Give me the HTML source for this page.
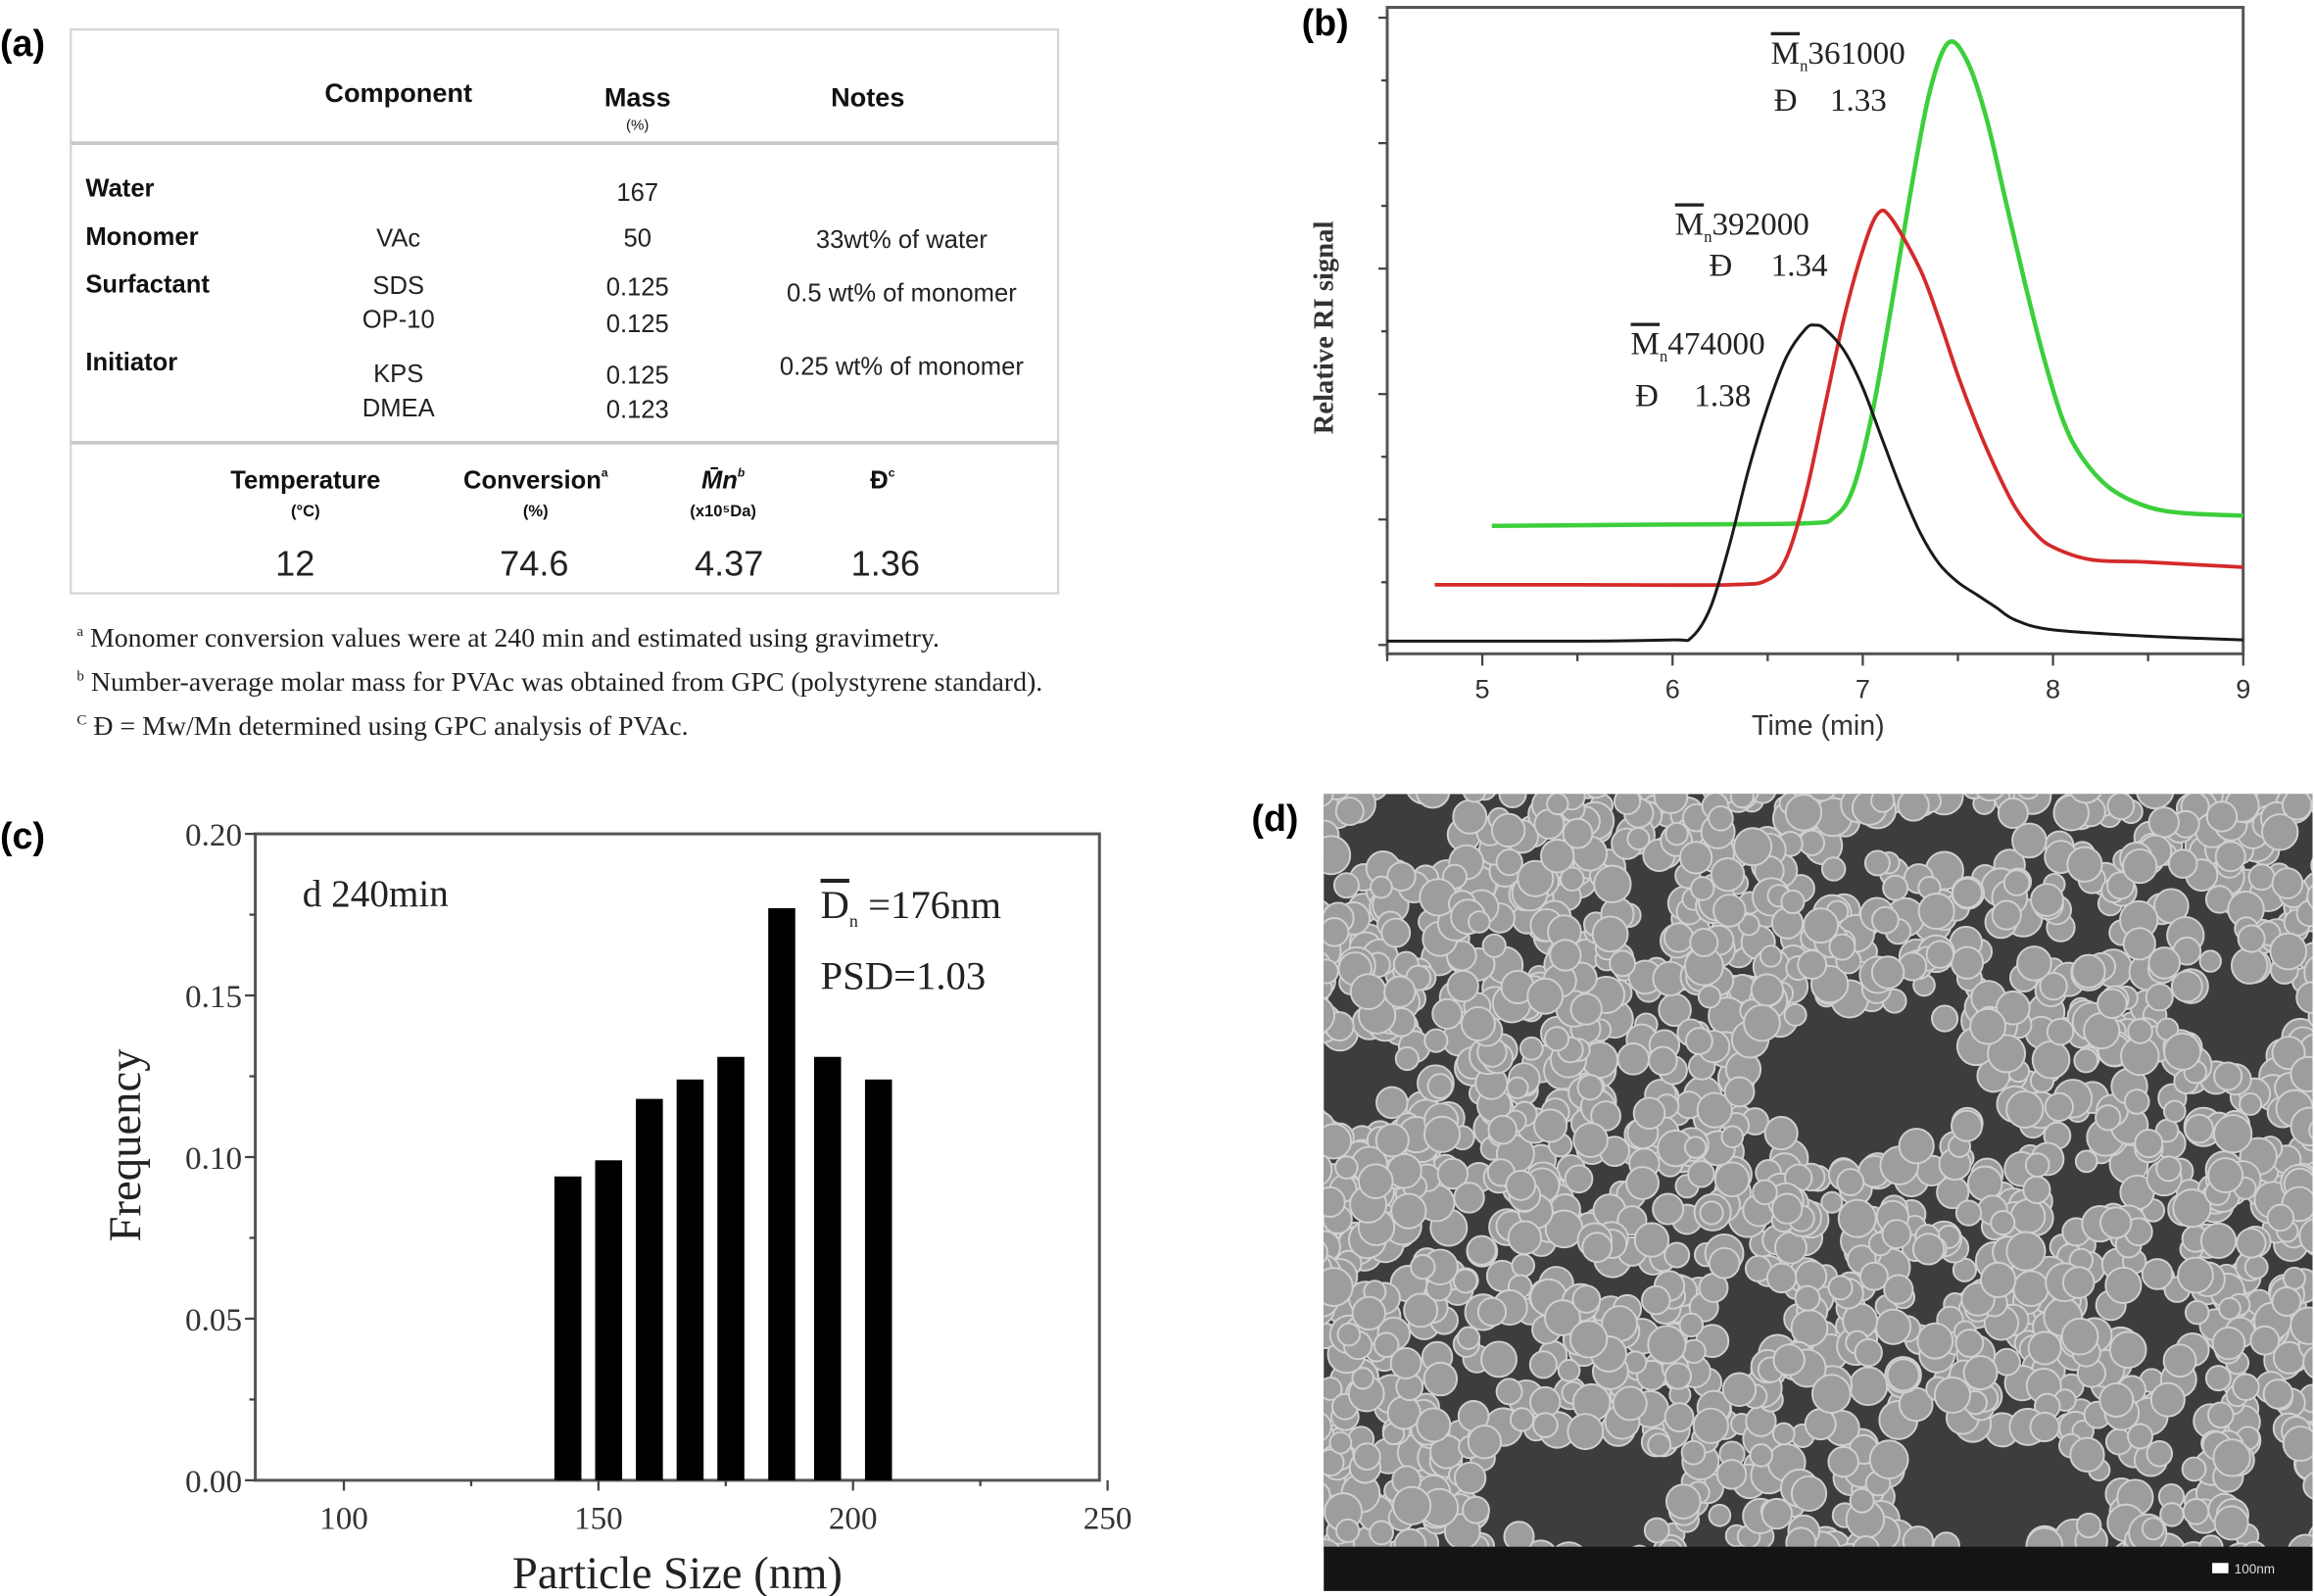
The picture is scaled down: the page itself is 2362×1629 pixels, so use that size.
<!DOCTYPE html>
<html><head><meta charset="utf-8"><style>
html,body{margin:0;padding:0;background:#fff;}
svg{display:block;}
.sans{font-family:"Liberation Sans",Arial,sans-serif;}
.serif{font-family:"Liberation Serif","Times New Roman",serif;}
</style></head><body>
<svg id="fig" width="2362" height="1629" viewBox="0 0 1568 1081.4" preserveAspectRatio="none" xmlns="http://www.w3.org/2000/svg">
<rect x="0" y="0" width="1568" height="1082" fill="#fff"/>

<!-- Panel (a) table -->
<g class="sans">
  <text x="0" y="38" font-size="25" font-weight="bold">(a)</text>
  <rect x="48" y="20" width="669" height="382" fill="#fff" stroke="#d6d6d6" stroke-width="1.5"/>
  <line x1="48" y1="97" x2="717" y2="97" stroke="#c8c8c8" stroke-width="2.5"/>
  <line x1="48" y1="300" x2="717" y2="300" stroke="#c8c8c8" stroke-width="2.5"/>
  <g font-weight="bold" font-size="18" fill="#111" text-anchor="middle">
    <text x="270" y="69">Component</text>
    <text x="432" y="72">Mass</text>
    <text x="432" y="88" font-size="10" font-weight="normal">(%)</text>
    <text x="588" y="72">Notes</text>
  </g>
  <g font-weight="bold" font-size="17" fill="#111">
    <text x="58" y="133">Water</text>
    <text x="58" y="166">Monomer</text>
    <text x="58" y="198">Surfactant</text>
    <text x="58" y="251">Initiator</text>
  </g>
  <g font-size="17" fill="#222" text-anchor="middle">
    <text x="270" y="167">VAc</text>
    <text x="270" y="199">SDS</text>
    <text x="270" y="222">OP-10</text>
    <text x="270" y="259">KPS</text>
    <text x="270" y="282">DMEA</text>
    <text x="432" y="136">167</text>
    <text x="432" y="167">50</text>
    <text x="432" y="200">0.125</text>
    <text x="432" y="225">0.125</text>
    <text x="432" y="260">0.125</text>
    <text x="432" y="283">0.123</text>
    <text x="611" y="168">33wt% of water</text>
    <text x="611" y="204">0.5 wt% of monomer</text>
    <text x="611" y="254">0.25 wt% of monomer</text>
  </g>
  <g font-weight="bold" font-size="17" fill="#111" text-anchor="middle">
    <text x="207" y="331">Temperature</text>
    <text x="207" y="350" font-size="11">(°C)</text>
    <text x="363" y="331">Conversion<tspan font-size="8" dy="-8">a</tspan></text>
    <text x="363" y="350" font-size="11">(%)</text>
    <text x="490" y="331" font-style="italic">M̄n<tspan font-size="8" dy="-8">b</tspan></text>
    <text x="490" y="350" font-size="11">(x10⁵Da)</text>
    <text x="598" y="331">Đ<tspan font-size="8" dy="-8">c</tspan></text>
  </g>
  <g font-size="24" fill="#222" text-anchor="middle">
    <text x="200" y="390">12</text>
    <text x="362" y="390">74.6</text>
    <text x="494" y="390">4.37</text>
    <text x="600" y="390">1.36</text>
  </g>
  <g class="serif" font-size="18.5" fill="#222">
    <text x="52" y="438"><tspan font-size="10" dy="-7">a</tspan><tspan dy="7"> Monomer conversion values were at 240 min and estimated using gravimetry.</tspan></text>
    <text x="52" y="468"><tspan font-size="10" dy="-7">b</tspan><tspan dy="7"> Number-average molar mass for PVAc was obtained from GPC (polystyrene standard).</tspan></text>
    <text x="52" y="498"><tspan font-size="10" dy="-7">C</tspan><tspan dy="7"> Đ = Mw/Mn determined using GPC analysis of PVAc.</tspan></text>
  </g>
</g>

<!-- Panel (b) -->
<g id="panelB">
  <text x="882" y="24" class="sans" font-size="25" font-weight="bold">(b)</text>
  <rect x="940" y="5" width="580" height="438" fill="none" stroke="#555" stroke-width="2"/>
  <text transform="translate(903,222) rotate(-90)" text-anchor="middle" class="serif" font-size="19" font-weight="bold" fill="#333">Relative RI signal</text>
  <text x="1232" y="498" text-anchor="middle" class="sans" font-size="19" fill="#333">Time (min)</text>
  <g id="bTicks"></g>
  <g id="bLines"></g>
  <g class="serif" font-size="22" fill="#222">
    <text x="1200" y="43"><tspan text-decoration="overline">M</tspan><tspan font-size="11" dy="5">n</tspan><tspan dy="-5">361000</tspan></text>
    <text x="1202" y="75">Đ<tspan x="1240">1.33</tspan></text>
    <text x="1135" y="159"><tspan text-decoration="overline">M</tspan><tspan font-size="11" dy="5">n</tspan><tspan dy="-5">392000</tspan></text>
    <text x="1158" y="187">Đ<tspan x="1200">1.34</tspan></text>
    <text x="1105" y="240"><tspan text-decoration="overline">M</tspan><tspan font-size="11" dy="5">n</tspan><tspan dy="-5">474000</tspan></text>
    <text x="1108" y="275">Đ<tspan x="1148">1.38</tspan></text>
  </g>
</g>

<!-- Panel (c) -->
<g id="panelC">
  <text x="0" y="575" class="sans" font-size="25" font-weight="bold">(c)</text>
  <rect x="173" y="565" width="572" height="438" fill="none" stroke="#555" stroke-width="2"/>
  <text transform="translate(95,776) rotate(-90)" text-anchor="middle" class="serif" font-size="31" fill="#222">Frequency</text>
  <text x="459" y="1076" text-anchor="middle" class="serif" font-size="31" fill="#222">Particle Size (nm)</text>
  <text x="205" y="614" class="serif" font-size="26" fill="#222">d 240min</text>
  <text x="556" y="622" class="serif" font-size="27" fill="#222"><tspan text-decoration="overline">D</tspan><tspan font-size="12" dy="6">n</tspan><tspan dy="-6"> =176nm</tspan></text>
  <text x="556" y="670" class="serif" font-size="27" fill="#222">PSD=1.03</text>
  <g id="cTicks"></g>
  <g id="cBars"></g>
</g>

<!-- Panel (d) SEM -->
<g>
  <text x="848" y="563" class="sans" font-size="25" font-weight="bold">(d)</text>
  <clipPath id="semClip"><rect x="897" y="538" width="670" height="512"/></clipPath>
  <rect x="897" y="538" width="670" height="512" fill="#3d3d3d"/>
  <g id="sem" clip-path="url(#semClip)"></g>
  <rect x="897" y="1048" width="670" height="30" fill="#141414"/>
  <rect x="1499" y="1059" width="11" height="7" fill="#fff"/>
  <text x="1514" y="1066" class="sans" font-size="9" fill="#ddd">100nm</text>
</g>
</svg>
<script>
// ---- Panel (b) data: GPC traces (time in min, relative signal in tick units) ----
const blackTime = [4.5,5,5.5,6,6.1,6.2,6.3,6.4,6.5,6.6,6.7,6.75,6.8,6.9,7.0,7.1,7.2,7.3,7.4,7.5,7.6,7.7,7.8,8.0,8.5,9];
const blackSignal = [0.03,0.03,0.03,0.04,0.06,0.3,0.8,1.4,1.9,2.3,2.52,2.55,2.52,2.35,2.05,1.65,1.25,0.9,0.65,0.5,0.4,0.3,0.2,0.12,0.07,0.04];
const redTime = [4.75,5.5,6.3,6.5,6.6,6.7,6.8,6.9,7.0,7.08,7.15,7.3,7.4,7.5,7.6,7.7,7.8,7.9,8.0,8.2,8.5,9];
const redSignal = [0.48,0.48,0.48,0.52,0.7,1.2,1.9,2.6,3.15,3.44,3.4,3.0,2.6,2.15,1.75,1.4,1.1,0.9,0.78,0.68,0.66,0.62];
const greenTime = [5.05,6,6.7,6.85,6.95,7.05,7.15,7.25,7.35,7.45,7.55,7.65,7.75,7.85,7.95,8.05,8.15,8.3,8.5,8.7,9];
const greenSignal = [0.95,0.96,0.97,1.02,1.25,1.85,2.7,3.6,4.4,4.8,4.65,4.2,3.55,2.9,2.3,1.8,1.5,1.25,1.1,1.05,1.03];
const bXTicks = [5,6,7,8,9];

// ---- Panel (c) data ----
const sizeCategories = [144,152,160,168,176,186,195,205];
const frequencyValues = [0.094,0.099,0.118,0.124,0.131,0.177,0.131,0.124];
const cXTicks = [100,150,200,250];
const cYTickLabels = ["0.00","0.05","0.10","0.15","0.20"];
const cYTicks = [0,0.05,0.10,0.15,0.20];

const NS = "http://www.w3.org/2000/svg";
function mk(tag, attrs, parent){const e=document.createElementNS(NS,tag);for(const k in attrs)e.setAttribute(k,attrs[k]);parent.appendChild(e);return e;}

function xB(t){return 940+(t-4.5)*128.9;}
function yB(s){return 437-s*85;}
function xC(v){return 173+(v-82.6)*3.45;}
function yC(v){return 1003-v*2190;}

function smoothPath(xs, ys){
  const p=xs.map((x,i)=>[x,ys[i]]);
  let d="M"+p[0][0].toFixed(1)+","+p[0][1].toFixed(1);
  for(let i=0;i<p.length-1;i++){
    const p0=p[i-1]||p[i],p1=p[i],p2=p[i+1],p3=p[i+2]||p2;
    const c1=[p1[0]+(p2[0]-p0[0])/6,p1[1]+(p2[1]-p0[1])/6];
    const c2=[p2[0]-(p3[0]-p1[0])/6,p2[1]-(p3[1]-p1[1])/6];
    d+=" C"+c1[0].toFixed(1)+","+c1[1].toFixed(1)+" "+c2[0].toFixed(1)+","+c2[1].toFixed(1)+" "+p2[0].toFixed(1)+","+p2[1].toFixed(1);
  }
  return d;
}

const bT=document.getElementById("bTicks");
for(let t=4.5;t<=9.001;t+=0.5){
  const major=Math.abs(t-Math.round(t))<1e-6;
  mk("line",{x1:xB(t),x2:xB(t),y1:443,y2:443+(major?8:5),stroke:"#444","stroke-width":1.5},bT);
}
bXTicks.forEach(v=>{
  const e=mk("text",{x:xB(v),y:473,"text-anchor":"middle","font-size":18,"font-family":"Liberation Sans, sans-serif",fill:"#333"},bT);
  e.textContent=v;
  
  
});
for(let s=0;s<=5.001;s+=0.5){
  const y=yB(s); if(y<8) continue;
  mk("line",{x1:940,x2:940-(Number.isInteger(s)?6:4),y1:y,y2:y,stroke:"#444","stroke-width":1.5},bT);
}
const bL=document.getElementById("bLines");
[[greenTime,greenSignal,"#3ccf3c",3,"green-trace"],[redTime,redSignal,"#d42a2a",2.5,"red-trace"],[blackTime,blackSignal,"#1a1a1a",2,"black-trace"]].forEach(s=>{
  const p=mk("path",{d:smoothPath(s[0].map(xB),s[1].map(yB)),fill:"none",stroke:s[2],"stroke-width":s[3]},bL);
  
  
});

const cT=document.getElementById("cTicks");
for(let v=0;v<=0.2001;v+=0.025){
  const major=Math.round(v*1000)%50===0;
  mk("line",{x1:173,x2:173-(major?7:4),y1:yC(v),y2:yC(v),stroke:"#444","stroke-width":1.5},cT);
}
cYTicks.forEach((v,i)=>{
  const e=mk("text",{x:164,y:yC(v)+8,"text-anchor":"end","font-size":22,"font-family":"Liberation Serif, serif",fill:"#333"},cT);
  e.textContent=cYTickLabels[i];
  
  
});
for(let v=100;v<=250;v+=25){
  const major=v%50===0;
  mk("line",{x1:xC(v),x2:xC(v),y1:1003,y2:1003+(major?7:4),stroke:"#444","stroke-width":1.5},cT);
}
cXTicks.forEach(v=>{
  const e=mk("text",{x:xC(v),y:1036,"text-anchor":"middle","font-size":22,"font-family":"Liberation Serif, serif",fill:"#333"},cT);
  e.textContent=v;
  
  
});
const cB=document.getElementById("cBars");
const barW=5.3*3.45;
sizeCategories.forEach((c,i)=>{
  const r=mk("rect",{x:xC(c)-barW/2,y:yC(frequencyValues[i]),width:barW,height:yC(0)-yC(frequencyValues[i]),fill:"#000"},cB);
  
  
});

// (d) decorative SEM texture (not data)
(function(){
  const g=document.getElementById("sem");
  let seed=12345;
  function rnd(){seed=(seed*1103515245+12345)%2147483648;return seed/2147483648;}
  const holes=[[950,565,40,24],[1265,730,80,50],[1070,1010,70,38],[1350,1010,75,40],[1519,689,35,35],[1320,566,55,22],[1030,640,16,16],[1185,890,30,22],[1455,890,22,26],[920,730,18,35],[1540,1010,25,40],[1120,600,25,18],[1400,800,15,18],[1000,830,18,14]];
  let n=0;
  while(n<2200){
    const x=890+rnd()*690, y=530+rnd()*530;
    let bad=false;
    for(const h of holes){const dx=(x-h[0])/h[2],dy=(y-h[1])/h[3];if(dx*dx+dy*dy<1){bad=true;break;}}
    n++;
    if(bad) continue;
    if(rnd()<0.12) continue;
    const r=7+rnd()*6;
    mk("circle",{cx:x.toFixed(1),cy:y.toFixed(1),r:r.toFixed(1),fill:"#9d9d9d",stroke:"#d0d0d0","stroke-width":1.3},g);
  }
})();
</script>
</body></html>
